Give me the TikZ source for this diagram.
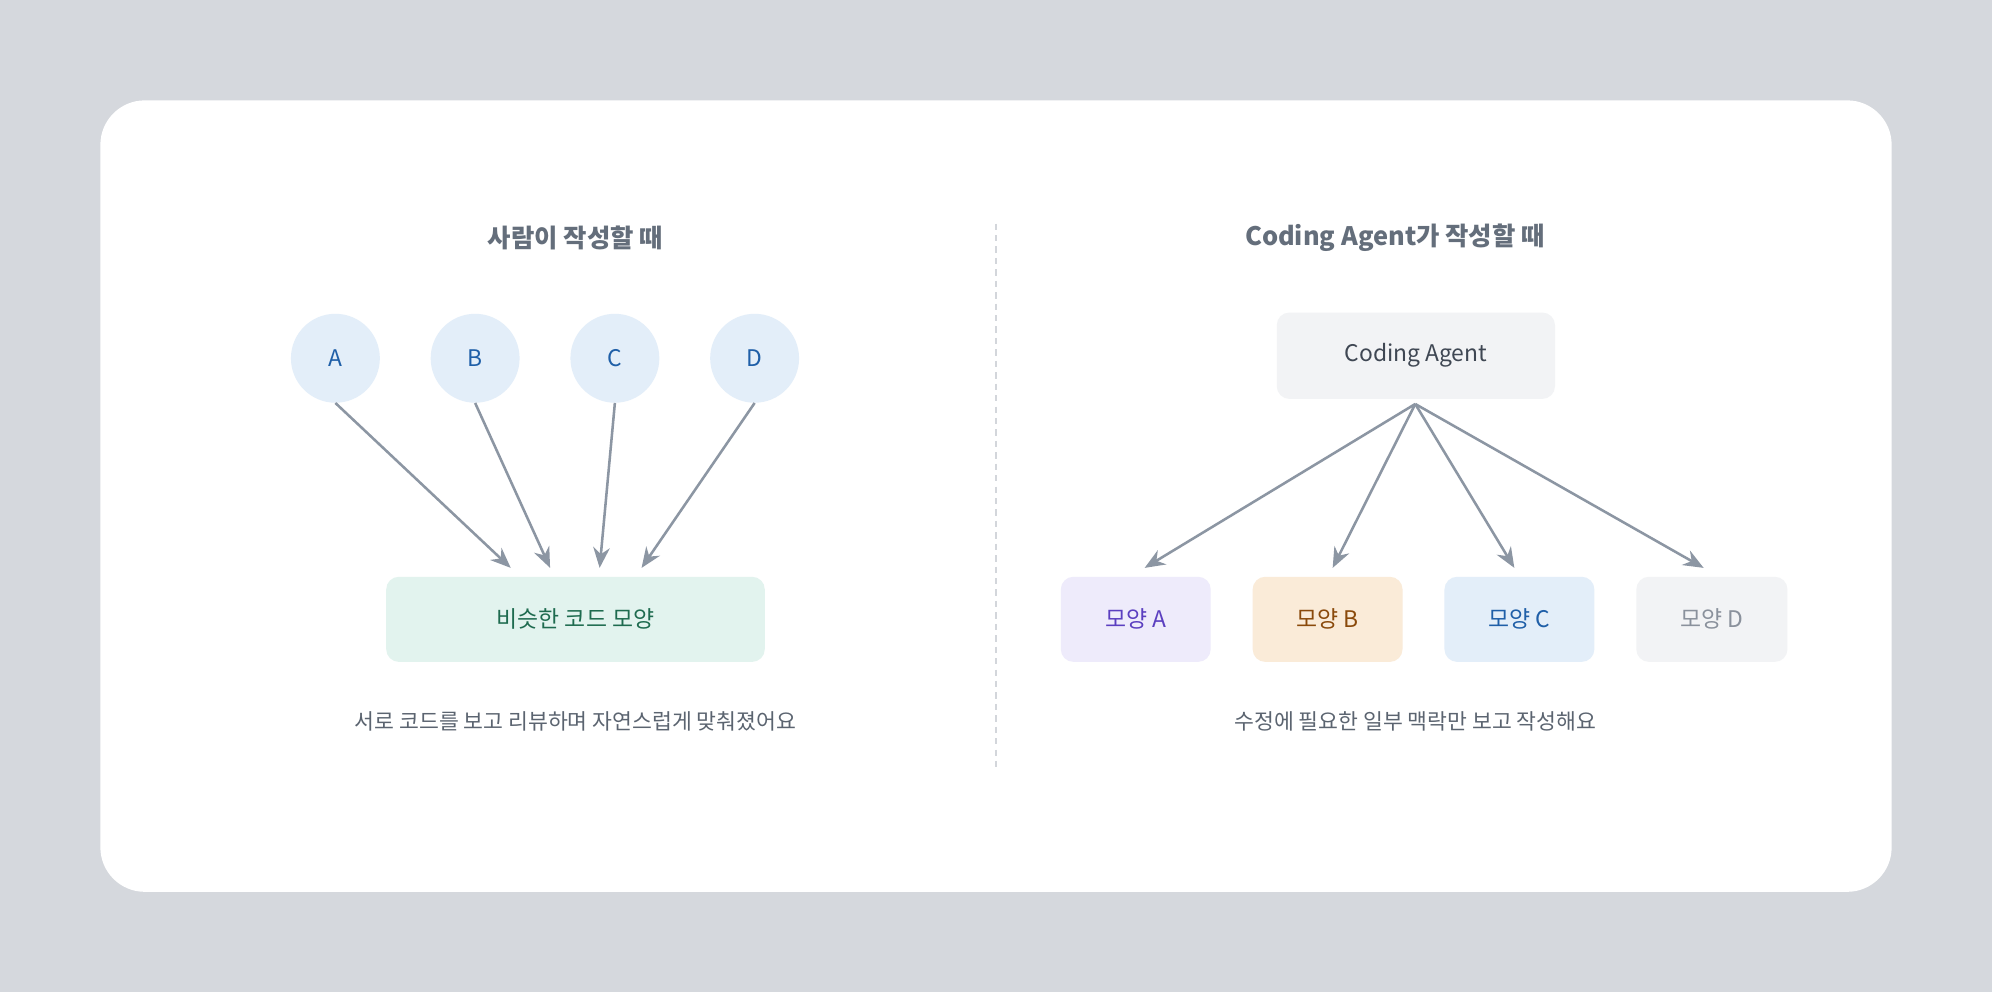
\documentclass[tikz,border=0pt]{standalone}
\usepackage{fontspec}
\setmainfont{Noto Sans CJK KR}
\usetikzlibrary{arrows.meta}
\definecolor{bg}{HTML}{D5D8DD}
\definecolor{ttl}{HTML}{646E7B}
\definecolor{cap}{HTML}{5B6470}
\definecolor{arr}{HTML}{8C96A3}
\definecolor{cfill}{HTML}{E3EEF9}
\definecolor{ctext}{HTML}{1F5FA8}
\definecolor{simf}{HTML}{E2F3EE}
\definecolor{simt}{HTML}{1E6B4F}
\definecolor{grf}{HTML}{F2F3F5}
\definecolor{agt}{HTML}{3F4753}
\definecolor{mAf}{HTML}{EEEBFB}
\definecolor{mAt}{HTML}{5B3FC0}
\definecolor{mBf}{HTML}{FAEBD8}
\definecolor{mBt}{HTML}{8A4A0B}
\definecolor{mDt}{HTML}{8A919C}
\definecolor{dashc}{HTML}{D3D6DB}
\begin{document}
\begin{tikzpicture}[x=1pt,y=-1pt,
 title/.style={font=\fontsize{20}{24}\selectfont\bfseries,text=ttl},
 caption/.style={font=\fontsize{17}{20}\selectfont,text=cap},
 circ/.style={circle,fill=cfill,minimum size=70pt,inner sep=0,text=ctext,font=\fontsize{18}{22}\selectfont},
 box/.style={rounded corners=10pt,minimum height=67pt,inner sep=0,font=\fontsize{18}{22}\selectfont},
 con/.style={draw=arr,line width=2pt,-{Stealth[length=16pt,width=13pt]}}]
\fill[bg] (0,0) rectangle (1568,781);
\useasboundingbox (0,0) rectangle (1568,781);
\fill[white,rounded corners=35pt] (79,79) rectangle (1489,702);
\draw[draw=dashc,line width=1.2pt,dash pattern=on 5pt off 4pt] (784,176) -- (784,605);
\node[title] (t1) at (453,187) {사람이 작성할 때};
\node[title] (t2) at (1098,187) {Coding Agent가 작성할 때};
\foreach \n/\x in {A/264,B/374,C/484,D/594}{
  \node[circ] (\n) at (\x,282) {\n};}
\node[box,fill=simf,text=simt,minimum width=298pt] (sim) at (453,487.5) {비슷한 코드 모양};
\foreach \n/\x in {A/402,B/433,C/472,D/505}{
  \coordinate (e\n) at (\x,447);
  \draw[con] (\n.south) -- (e\n);}
\node[caption] (c1) at (453,568) {서로 코드를 보고 리뷰하며 자연스럽게 맞춰졌어요};
\node[box,fill=grf,text=agt,minimum width=219pt,minimum height=68pt] (ag) at (1114.5,280) {Coding Agent};
\coordinate (ags) at (1114,318);
\node[box,fill=mAf,text=mAt,minimum width=118pt] (mA) at (894,487.5) {모양 A};
\node[box,fill=mBf,text=mBt,minimum width=118pt] (mB) at (1045,487.5) {모양 B};
\node[box,fill=cfill,text=ctext,minimum width=118pt] (mC) at (1196,487.5) {모양 C};
\node[box,fill=grf,text=mDt,minimum width=119pt] (mD) at (1347.5,487.5) {모양 D};
\foreach \n/\x in {A/901,B/1049,C/1192,D/1341}{
  \coordinate (f\n) at (\x,447);
  \draw[con] (ags) -- (f\n);}
\node[caption] (c2) at (1114,568) {수정에 필요한 일부 맥락만 보고 작성해요};
\end{tikzpicture}
\end{document}
